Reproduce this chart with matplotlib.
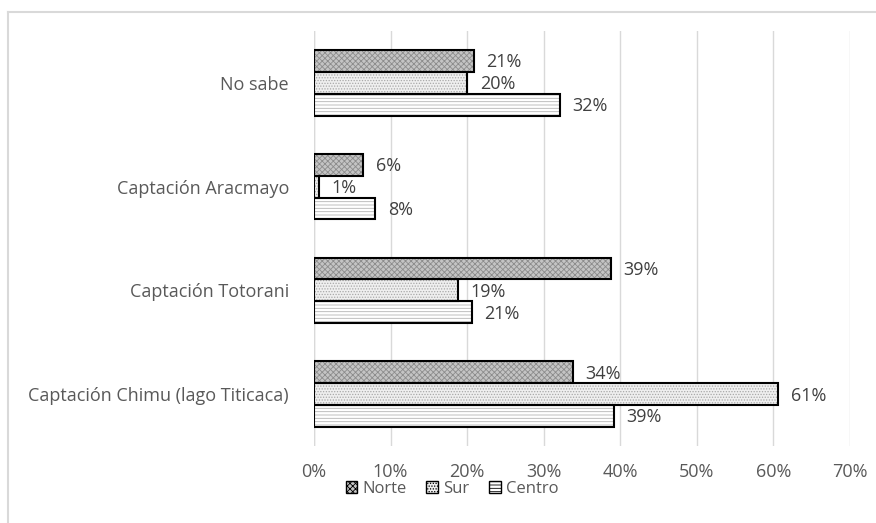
import matplotlib.pyplot as plt
import matplotlib.patches as mpatches
import numpy as np

categories = ['Captación Chimu (lago Titicaca)', 'Captación Totorani',
              'Captación Aracmayo', 'No sabe']
norte = [33.8, 38.8, 6.4, 20.9]
sur = [60.6, 18.8, 0.6, 20.0]
centro = [39.2, 20.6, 8.0, 32.1]
series = ['Norte', 'Sur', 'Centro']
xticks = [0, 10, 20, 30, 40, 50, 60, 70]

plt.rcParams['font.family'] = ['Open Sans', 'DejaVu Sans']
plt.rcParams['hatch.linewidth'] = 0.6

styles = {
    'Norte': dict(face='#c4c4c4', hatch='xxxxxx', hcol='#8c8c8c'),
    'Sur': dict(face='#efefef', hatch='......', hcol='#a8a8a8'),
    'Centro': dict(face='white', hatch='-----', hcol='#b4b4b4'),
}

fig = plt.figure(figsize=(8.76, 5.23), dpi=100)
ax = fig.add_axes([314 / 876, 1 - 446 / 523, (850 - 314) / 876, (446 - 31) / 523])

y = np.arange(len(categories))
h = 0.21
offsets = {'Norte': h, 'Sur': 0, 'Centro': -h}
data = {'Norte': norte, 'Sur': sur, 'Centro': centro}

for s in series:
    st = styles[s]
    pos = y + offsets[s]
    ax.barh(pos, data[s], height=h, color=st['face'], hatch=st['hatch'],
            edgecolor=st['hcol'], linewidth=0, zorder=2)
    ax.barh(pos, data[s], height=h, fill=False, edgecolor='black',
            linewidth=1.5, zorder=3)
    for p, v in zip(pos, data[s]):
        ax.annotate(f'{round(v)}%', (v, p), xytext=(9, -1), textcoords='offset points',
                    va='center', ha='left', fontsize=13, color='#404040')

ax.set_xlim(0, 70)
ax.set_ylim(-0.5, len(categories) - 0.5)
ax.set_xticks(xticks)
ax.set_xticklabels([f'{t}%' for t in xticks])
ax.set_yticks(y)
ax.set_yticklabels(categories)
ax.tick_params(axis='both', length=0, labelsize=13, labelcolor='#595959')
ax.tick_params(axis='x', pad=12)
ax.tick_params(axis='y', pad=18)
ax.grid(axis='x', color='#d9d9d9', linewidth=1, zorder=0)
ax.set_axisbelow(True)
for sp in ax.spines.values():
    sp.set_visible(False)
ax.axvline(0, color='#d9d9d9', linewidth=1, zorder=1)

handles = [mpatches.Patch(facecolor=styles[s]['face'], hatch=styles[s]['hatch'],
                          edgecolor='black', linewidth=1, label=s) for s in series]
fig.legend(handles=handles, loc='center', bbox_to_anchor=(452 / 876, 1 - 489 / 523),
           ncol=3, frameon=False, fontsize=12, handlelength=0.7, handleheight=0.7,
           handletextpad=0.3, columnspacing=1.2, labelcolor='#595959')

# chart area border (left and top edges only visible)
fig.add_artist(plt.Line2D([8 / 876, 8 / 876], [0, 1 - 12 / 523], transform=fig.transFigure,
                          color='#d9d9d9', linewidth=1.5))
fig.add_artist(plt.Line2D([8 / 876, 1], [1 - 12 / 523, 1 - 12 / 523], transform=fig.transFigure,
                          color='#d9d9d9', linewidth=1.5))

fig.savefig('out.png', dpi=100)
